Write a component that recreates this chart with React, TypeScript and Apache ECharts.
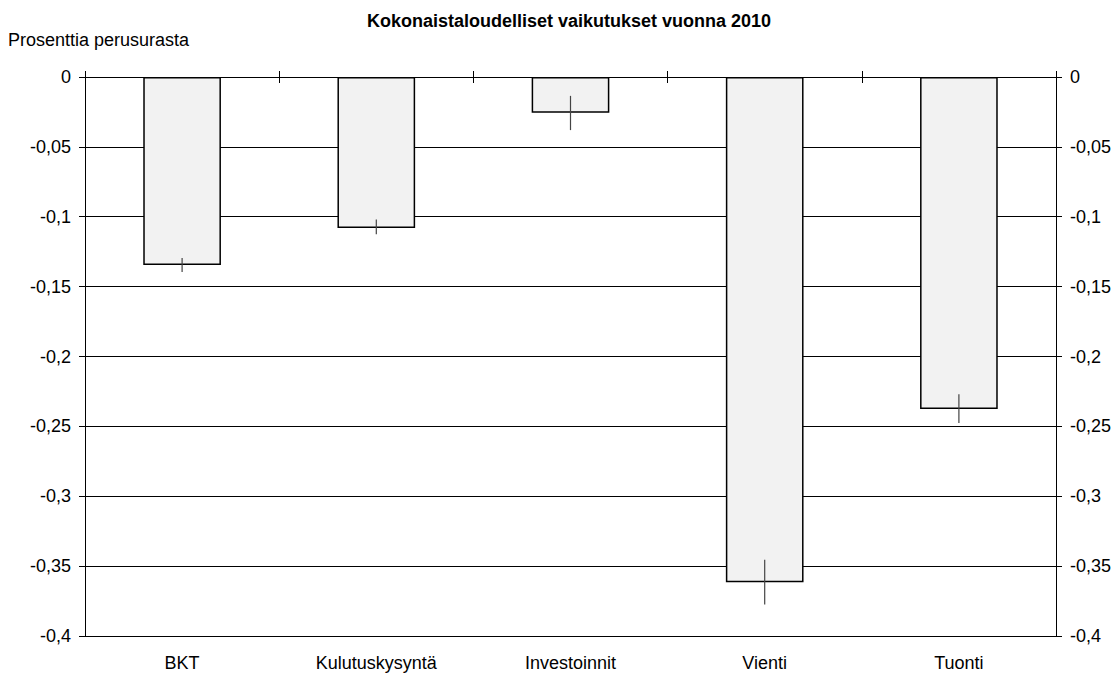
import React, { useEffect, useRef } from "react";
import * as echarts from "echarts";

const categories = ["BKT", "Kulutuskysyntä", "Investoinnit", "Vienti", "Tuonti"];
const values = [-0.1345, -0.108, -0.0255, -0.3615, -0.2375];
const errLow = [-0.1395, -0.1125, -0.038, -0.3775, -0.2475];
const errHigh = [-0.1295, -0.102, -0.0135, -0.3455, -0.227];

const fmt = (v: number) => String(v).replace(".", ",");

export default function App() {
  const ref = useRef<HTMLDivElement>(null);
  useEffect(() => {
    const chart = echarts.init(ref.current!, null, { renderer: "svg" });
    const font = "Liberation Sans, Arial, sans-serif";
    const yBase = {
      type: "value" as const,
      min: -0.4,
      max: 0,
      interval: 0.05,
      axisLine: { show: true, lineStyle: { color: "#000", width: 1 } },
      axisLabel: { color: "#000", fontSize: 18, fontFamily: font, formatter: (v: number) => fmt(+v.toFixed(2)), margin: 14 },
      splitLine: { show: false },
    };
    chart.setOption({
      animation: false,
      title: {
        text: "Kokonaistaloudelliset vaikutukset vuonna 2010",
        left: 564,
        textAlign: "center",
        top: 7,
        textStyle: { fontSize: 18, fontWeight: "bold", fontFamily: font, color: "#000" },
      },
      graphic: [
        { type: "text", left: 8, top: 31, style: { text: "Prosenttia perusurasta", fontSize: 18, fontFamily: font, fill: "#000" } },
      ],
      grid: { left: 85, right: 62, top: 77, bottom: 39, containLabel: false },
      xAxis: [
        {
          type: "category",
          data: categories,
          position: "bottom",
          axisLine: { show: false },
          axisTick: { show: false },
          axisLabel: { color: "#000", fontSize: 18, fontFamily: font, margin: 18 },
        },
        {
          type: "category",
          data: categories,
          position: "top",
          axisLine: { show: true, lineStyle: { color: "#000" } },
          axisTick: { show: true, length: 6, inside: false, lineStyle: { color: "#000" } },
          axisLabel: { show: false },
        },
        {
          type: "category",
          data: categories,
          position: "top",
          axisLine: { show: false },
          axisTick: { show: true, length: 6, inside: true, lineStyle: { color: "#000" } },
          axisLabel: { show: false },
        },
      ],
      yAxis: [
        {
          ...yBase,
          position: "left",
          axisTick: { show: true, length: 6, inside: false, lineStyle: { color: "#000" } },
          splitLine: { show: true, lineStyle: { color: "#000", width: 1 } },
        },
        {
          ...yBase,
          position: "right",
          axisTick: { show: true, length: 6, inside: false, lineStyle: { color: "#000" } },
        },
        {
          ...yBase,
          position: "left",
          axisLabel: { show: false },
          axisTick: { show: true, length: 6, inside: true, lineStyle: { color: "#000" } },
        },
        {
          ...yBase,
          position: "right",
          axisLabel: { show: false },
          axisTick: { show: true, length: 6, inside: true, lineStyle: { color: "#000" } },
        },
      ],
      series: [
        {
          type: "bar",
          data: values,
          barWidth: "40%",
          itemStyle: { color: "#f2f2f2", borderColor: "#000", borderWidth: 1.5 },
        },
        {
          type: "custom",
          data: categories.map((_, i) => [i, errLow[i], errHigh[i]]),
          renderItem: (params: any, api: any) => {
            const p1 = api.coord([api.value(0), api.value(1)]);
            const p2 = api.coord([api.value(0), api.value(2)]);
            return {
              type: "line",
              shape: { x1: p1[0], y1: p1[1], x2: p2[0], y2: p2[1] },
              style: { stroke: "#444", lineWidth: 1.2 },
            };
          },
          z: 10,
        },
      ],
    });
    return () => chart.dispose();
  }, []);
  return <div ref={ref} style={{ width: 1118, height: 675, position: "absolute", left: 0, top: 0 }} />;
}
